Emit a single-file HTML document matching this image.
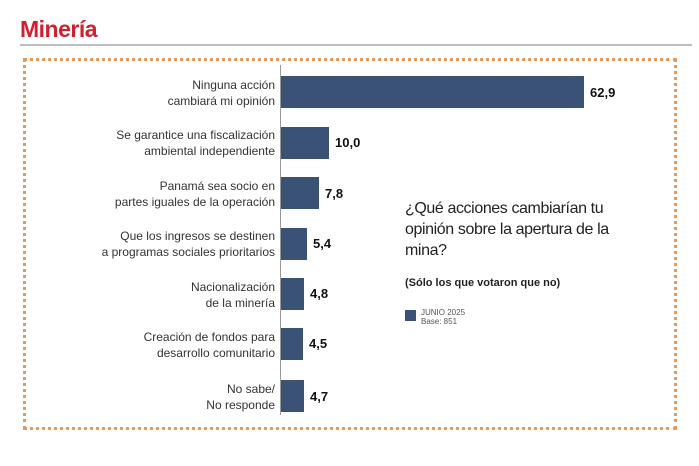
<!DOCTYPE html>
<html><head><meta charset="utf-8"><style>
body{margin:0;width:699px;height:466px;background:#fff;font-family:"Liberation Sans",sans-serif;position:relative;overflow:hidden}
.a{position:absolute}
.t{left:20px;top:16px;font-size:23px;font-weight:bold;color:#d21f2f;letter-spacing:-0.5px}
.hr{left:20px;top:44px;width:672px;height:2px;background:#bdbdbd}
.box{left:23px;top:58px;width:648px;height:366px;border:3px dotted #e39a5e}
.ax{left:280px;top:65px;width:1px;height:350px;background:#999}
.bar{position:absolute;left:281px;height:32px;background:#3a5275}
.lab{position:absolute;right:424px;width:200px;text-align:right;font-size:12px;line-height:16px;color:#333}
.v{position:absolute;font-size:13px;font-weight:bold;color:#111}
</style></head><body>
<div class="a t">Minería</div>
<div class="a hr"></div>
<div class="a box"></div>
<div class="a ax"></div>

<div class="bar" style="top:76px;width:303px"></div><div class="v" style="left:590px;top:85px">62,9</div>
<div class="lab" style="top:77px">Ninguna acción<br>cambiará mi opinión</div>

<div class="bar" style="top:127px;width:48px"></div><div class="v" style="left:335px;top:135px">10,0</div>
<div class="lab" style="top:127px">Se garantice una fiscalización<br>ambiental independiente</div>

<div class="bar" style="top:177px;width:38px"></div><div class="v" style="left:325px;top:186px">7,8</div>
<div class="lab" style="top:178px">Panamá sea socio en<br>partes iguales de la operación</div>

<div class="bar" style="top:228px;width:26px"></div><div class="v" style="left:313px;top:236px">5,4</div>
<div class="lab" style="top:228px">Que los ingresos se destinen<br>a programas sociales prioritarios</div>

<div class="bar" style="top:278px;width:23px"></div><div class="v" style="left:310px;top:286px">4,8</div>
<div class="lab" style="top:279px">Nacionalización<br>de la minería</div>

<div class="bar" style="top:328px;width:22px"></div><div class="v" style="left:309px;top:336px">4,5</div>
<div class="lab" style="top:329px">Creación de fondos para<br>desarrollo comunitario</div>

<div class="bar" style="top:380px;width:23px"></div><div class="v" style="left:310px;top:389px">4,7</div>
<div class="lab" style="top:381px">No sabe/<br>No responde</div>

<div class="a" style="left:405px;top:198px;width:240px;font-size:16px;line-height:21px;color:#222;letter-spacing:-0.4px">¿Qué acciones cambiarían tu opinión sobre la apertura de la mina?</div>
<div class="a" style="left:405px;top:277px;font-size:11px;font-weight:bold;color:#222">(Sólo los que votaron que no)</div>
<div class="a" style="left:405px;top:310px;width:11px;height:11px;background:#3a5275"></div>
<div class="a" style="left:421px;top:308px;font-size:8px;line-height:9px;color:#555">JUNIO 2025<br>Base: 851</div>
</body></html>
